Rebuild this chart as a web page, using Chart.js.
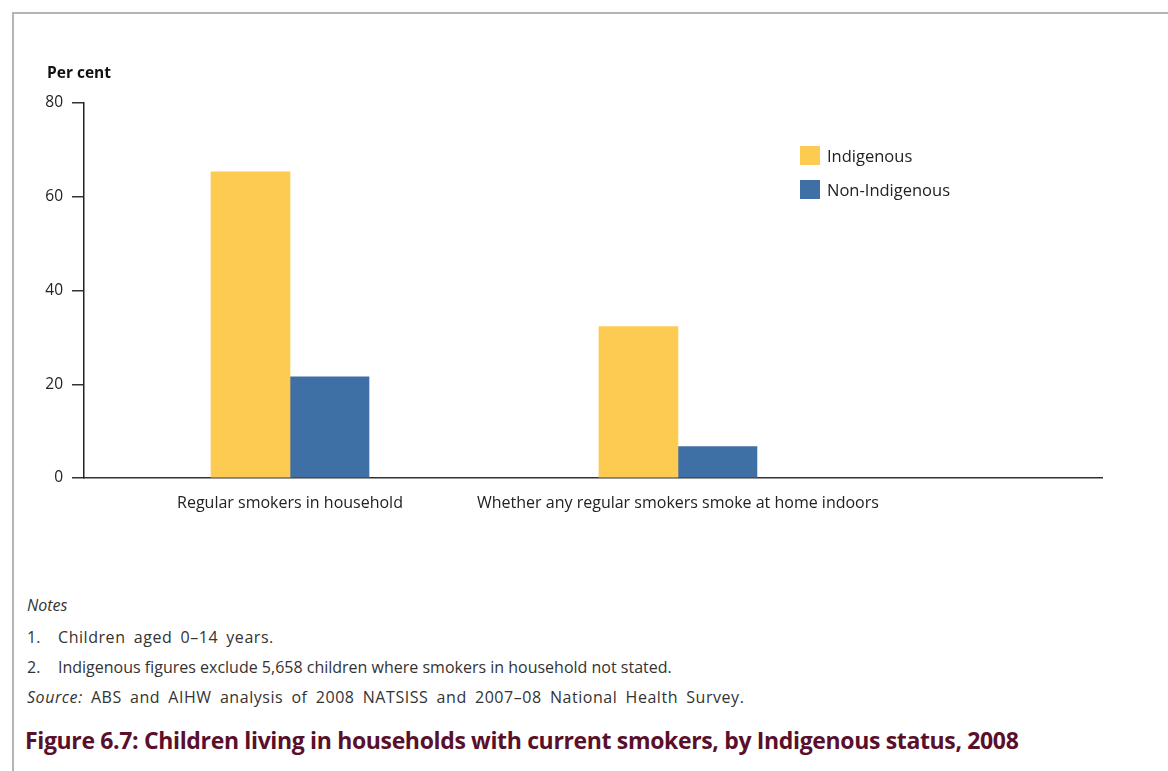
<!DOCTYPE html>
<html>
<head>
<meta charset="utf-8">
<script src="https://cdn.jsdelivr.net/npm/chart.js@4"></script>
<style>
  body { margin: 0; background: #fff; font-family: "Open Sans", sans-serif; }
  #page { position: relative; width: 1168px; height: 771px; overflow: hidden; }
  #frame { position: absolute; left: 12px; top: 12px; right: -2px; bottom: -2px;
           border-left: 2px solid #b4b4b4; border-top: 2px solid #b4b4b4; }
  #chartBox { position: absolute; left: 0; top: 0; width: 1168px; height: 520px; }
  #ytitle { position: absolute; left: 47px; top: 61px; font-size: 15.5px; font-weight: 700; color: #111; }
  #legend { position: absolute; left: 800px; top: 146px; font-size: 16.5px; color: #222; }
  .item { position: relative; height: 34px; line-height: 20px; padding-left: 27px; }
  .sw { position: absolute; left: 0; top: 0; width: 20px; height: 19px; }
  #notes { position: absolute; left: 27px; top: 590px; font-size: 16px; color: #333; line-height: 30px; white-space: nowrap; }
  #notes div.n { margin-top: 2px; }
  #notes div.n + div.n { margin-top: 0; }
  #notes .num { display: inline-block; width: 31px; letter-spacing: 0; }
  #notes .wide { letter-spacing: 0.55px; word-spacing: 3.5px; }
  #notes i { font-style: italic; }
  #figtitle { position: absolute; left: 25px; top: 724px; font-size: 23px; font-weight: 700; color: #5a0f2b; letter-spacing: -0.35px; white-space: nowrap; }
</style>
</head>
<body>
<div id="page">
  <div id="frame"></div>
  <div id="chartBox"><canvas id="chart"></canvas></div>
  <div id="ytitle">Per cent</div>
  <div id="legend"></div>
  <div id="notes">
    <div><i>Notes</i></div>
    <div class="n"><span class="num">1.</span><span class="wide">Children aged 0–14 years.</span></div>
    <div class="n"><span class="num">2.</span>Indigenous figures exclude 5,658 children where smokers in household not stated.</div>
    <div class="wide"><i>Source:</i> ABS and AIHW analysis of 2008 NATSISS and 2007–08 National Health Survey.</div>
  </div>
  <div id="figtitle">Figure 6.7: Children living in households with current smokers, by Indigenous status, 2008</div>
</div>
<script>
// categories and values
const categories = ['Regular smokers in household', 'Whether any regular smokers smoke at home indoors'];
const seriesNames = ['Indigenous', 'Non-Indigenous'];
const indigenous = [65.3, 32.3];
const nonIndigenous = [21.6, 6.7];
const yTicks = [0, 20, 40, 60, 80];
const colors = ['#fdcb52', '#3e70a5'];

// html legend
const legend = document.getElementById('legend');
seriesNames.forEach((name, i) => {
    legend.innerHTML += '<div class="item"><span class="sw" style="background:' + colors[i] + '"></span>' + name + '</div>';
});

const ctx = document.getElementById('chart').getContext('2d');

const chart = new Chart(ctx, {
    type: 'bar',
    data: {
        datasets: [{
            label: seriesNames[0],
            data: indigenous.map((v, i) => ({ x: i + 1, y: v })),
            backgroundColor: colors[0],
            barThickness: 79
        }, {
            label: seriesNames[1],
            data: nonIndigenous.map((v, i) => ({ x: i + 1, y: v })),
            backgroundColor: colors[1],
            barThickness: 79
        }]
    },
    options: {
        responsive: true,
        maintainAspectRatio: false,
        animation: false,
        layout: { padding: { top: 103, right: 66, left: 0, bottom: 0 } },
        plugins: { legend: { display: false }, tooltip: { enabled: false } },
        scales: {
            x: {
                type: 'linear',
                min: 0.469,
                max: 3.093,
                offset: false,
                grid: { display: false, drawTicks: false },
                border: { display: true, color: '#333', width: 1.5 },
                afterBuildTicks: (scale) => {
                    scale.ticks = categories.map((c, i) => ({ value: i + 1 }));
                },
                afterFit: (scale) => { scale.height = 42; },
                ticks: {
                    autoSkip: false,
                    maxRotation: 0,
                    padding: 16,
                    color: '#222',
                    font: { family: 'Open Sans', size: 16 },
                    callback: (v) => categories[v - 1] || ''
                }
            },
            y: {
                min: 0,
                max: 80,
                afterBuildTicks: (scale) => {
                    scale.ticks = yTicks.map(v => ({ value: v }));
                },
                afterFit: (scale) => { scale.width = 84; },
                grid: { display: true, drawOnChartArea: false, drawTicks: true, tickLength: 12, color: '#333', lineWidth: 1.5 },
                border: { display: true, color: '#222', width: 1.5 },
                ticks: {
                    padding: 9,
                    color: '#222',
                    font: { family: 'Open Sans', size: 15.5 }
                }
            }
        }
    }
});
</script>
</body>
</html>
